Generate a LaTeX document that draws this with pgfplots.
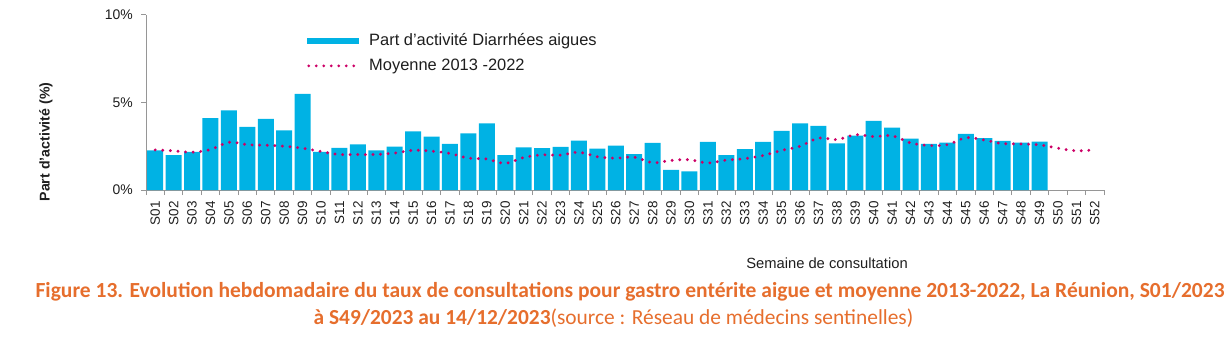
\documentclass[border=0pt]{standalone}
\usepackage{pgfplots}
\pgfplotsset{compat=1.18}
\usepackage{fontspec}
\setmainfont{Liberation Sans}
\newfontfamily\capfont{Carlito}
\definecolor{barc}{RGB}{0,178,228}
\definecolor{avgc}{RGB}{204,0,102}
\definecolor{capc}{RGB}{230,110,45}
\definecolor{axc}{RGB}{150,150,150}
\definecolor{txt}{RGB}{30,30,30}
\begin{document}
\begin{tikzpicture}[x=1bp,y=1bp]
\useasboundingbox (0,0) rectangle (1230,350);
\begin{axis}[
  at={(146bp,160bp)}, anchor=south west,
  scale only axis, width=958bp, height=175bp,
  xmin=0.5, xmax=52.5, ymin=0, ymax=10,
  axis x line*=bottom, axis y line*=left,
  axis line style={axc, line width=1bp, -},
  xtick={1,...,52},
  xticklabels={S01,S02,S03,S04,S05,S06,S07,S08,S09,S10,S11,S12,S13,S14,S15,S16,S17,S18,S19,S20,S21,S22,S23,S24,S25,S26,S27,S28,S29,S30,S31,S32,S33,S34,S35,S36,S37,S38,S39,S40,S41,S42,S43,S44,S45,S46,S47,S48,S49,S50,S51,S52},
  x tick label style={rotate=90, anchor=east, font=\fontsize{13.5}{13.5}\selectfont, text=txt, inner sep=0pt},
  xticklabel shift=6bp,
  major x tick style={draw=none},
  minor xtick={0.5,1.5,...,52.5},
  minor x tick style={axc, line width=1bp},
  minor tick length=5bp,
  tick align=outside,
  ytick={0,5,10},
  yticklabels={0\%,5\%,10\%},
  y tick label style={font=\fontsize{14}{14}\selectfont, text=txt, inner sep=0pt},
  yticklabel shift=8bp,
  major y tick style={axc, line width=1bp},
  major tick length=5bp,
  clip=false,
  legend style={at={(0.168,0.905)}, anchor=north west, draw=none, fill=none,
    font=\fontsize{16.5}{18}\selectfont, text=txt, row sep=8bp, inner sep=0pt,
    /tikz/every odd column/.append style={column sep=8bp}},
  legend cell align=left,
]
\addplot[ybar, bar width=16bp, fill=barc, draw=none,
  legend image code/.code={\fill[barc] (0bp,-3bp) rectangle (52bp,3bp);}]
coordinates {
(1,2.26)(2,1.99)(3,2.18)(4,4.10)(5,4.55)(6,3.61)(7,4.06)(8,3.40)(9,5.49)(10,2.18)
(11,2.41)(12,2.61)(13,2.27)(14,2.48)(15,3.35)(16,3.05)(17,2.63)(18,3.23)(19,3.80)(20,1.99)
(21,2.44)(22,2.39)(23,2.46)(24,2.82)(25,2.37)(26,2.54)(27,2.05)(28,2.69)(29,1.15)(30,1.07)
(31,2.75)(32,1.99)(33,2.33)(34,2.75)(35,3.38)(36,3.80)(37,3.67)(38,2.67)(39,3.10)(40,3.95)
(41,3.57)(42,2.93)(43,2.63)(44,2.71)(45,3.20)(46,2.97)(47,2.80)(48,2.71)(49,2.76)
};
\addlegendentry{Part d'activité Diarrhées aigues}
\addplot[avgc, line width=3.2bp, line cap=round, dash pattern=on 0bp off 7.6bp, smooth, tension=0.5,
  legend image code/.code={\draw[avgc, line width=3.2bp, line cap=round, dash pattern=on 0bp off 7.5bp] (1.5bp,0bp) -- (48bp,0bp);}]
coordinates {
(1,2.29)(2,2.24)(3,2.16)(4,2.31)(5,2.73)(6,2.59)(7,2.56)(8,2.50)(9,2.39)(10,2.20)
(11,2.03)(12,2.03)(13,2.03)(14,2.11)(15,2.27)(16,2.22)(17,2.09)(18,1.82)(19,1.77)(20,1.52)
(21,1.86)(22,2.01)(23,1.99)(24,2.16)(25,1.90)(26,1.82)(27,1.88)(28,1.56)(29,1.69)(30,1.73)
(31,1.54)(32,1.71)(33,1.79)(34,1.97)(35,2.26)(36,2.50)(37,2.97)(38,2.88)(39,3.16)(40,3.05)
(41,3.10)(42,2.69)(43,2.54)(44,2.59)(45,2.99)(46,2.86)(47,2.65)(48,2.63)(49,2.58)(50,2.39)
(51,2.24)(52,2.30)
};
\addlegendentry{Moyenne 2013 -2022}
\end{axis}
\node[rotate=90, font=\bfseries\fontsize{14.2}{14}\selectfont, text=txt] at (46,208) {Part d'activité (\%)};
\node[font=\fontsize{14.8}{15}\selectfont, text=txt] at (827,87) {Semaine de consultation};
\node[font=\capfont\bfseries\fontsize{21.6}{22}\selectfont, text=capc] at (630,58) {Figure 13. Evolution hebdomadaire du taux de consultations pour gastro entérite aigue et moyenne 2013-2022, La Réunion, S01/2023};
\node[font=\capfont\fontsize{21.5}{22}\selectfont, text=capc] at (613.5,32) {\textbf{à S49/2023 au 14/12/2023}(source : Réseau de médecins sentinelles)};
\end{tikzpicture}
\end{document}
